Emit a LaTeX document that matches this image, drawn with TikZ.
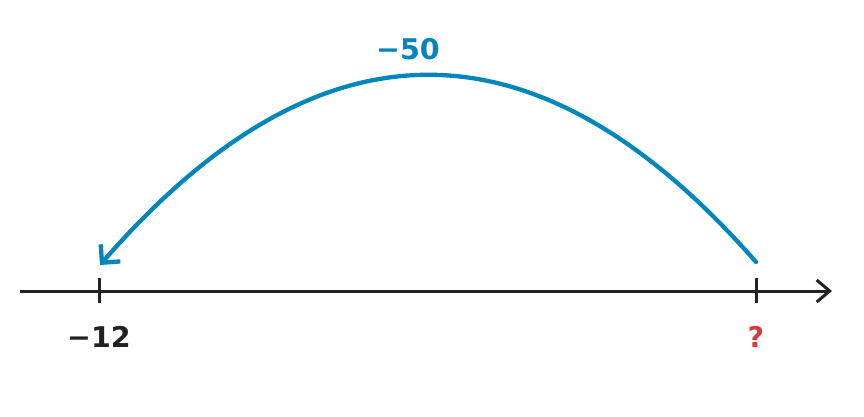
\documentclass[tikz,border=0pt]{standalone}
\usepackage{fontspec}
\setmainfont{DejaVu Sans}
\usetikzlibrary{arrows.meta}
\definecolor{jumpblue}{HTML}{0086BB}
\definecolor{qred}{HTML}{D93A3A}
\definecolor{axisblack}{HTML}{222222}
\begin{document}
\begin{tikzpicture}[x=1pt,y=-1pt,
  axisline/.style={draw=axisblack,line width=3pt,-{Straight Barb[length=13pt,width=22pt,line width=3pt]}},
  tickmark/.style={draw=axisblack,line width=3pt},
  jump/.style={draw=jumpblue,line width=4.3pt,line cap=round,-{Straight Barb[length=13pt,width=26pt,line width=4.3pt]}},
  lbl/.style={font=\bfseries\fontsize{28.5}{31}\selectfont,inner sep=0pt,anchor=base}]
\useasboundingbox (0,0) rectangle (864,416);
\coordinate (axL) at (20,291);
\coordinate (axR) at (832,291);
\draw[axisline] (axL) -- (axR);
\coordinate (t1a) at (99,278); \coordinate (t1b) at (99,303);
\coordinate (t2a) at (756,278); \coordinate (t2b) at (756,303);
\draw[tickmark] (t1a) -- (t1b);
\draw[tickmark] (t2a) -- (t2b);
\node[lbl,text=axisblack] (lm12) at (99,347.5) {−12};
\node[lbl,text=qred] (lq) at (756,347.5) {?};
\coordinate (js) at (756,262);
\coordinate (je) at (100,265);
\draw[jump] (js) .. controls (537,12) and (319,13) .. (je);
\node[lbl,text=jumpblue] (l50) at (408,59) {−50};
\end{tikzpicture}
\end{document}
